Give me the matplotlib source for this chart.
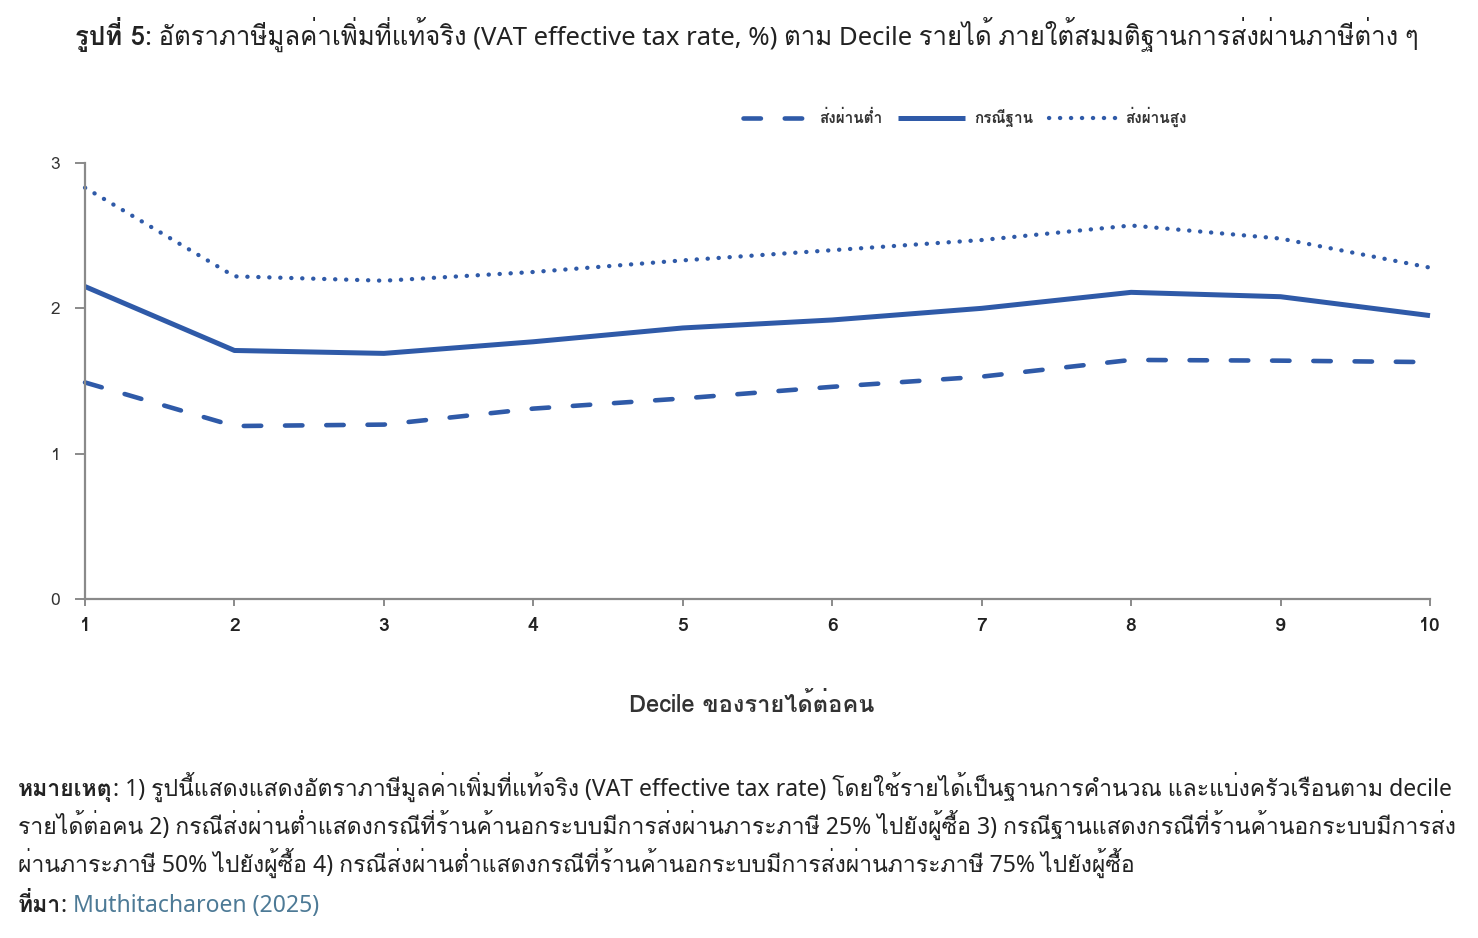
import matplotlib
matplotlib.use("Agg")
import matplotlib.pyplot as plt
from matplotlib import font_manager as fm

# decile values (VAT effective tax rate, %)
deciles = [1, 2, 3, 4, 5, 6, 7, 8, 9, 10]
low_pass = [1.49, 1.19, 1.20, 1.31, 1.38, 1.46, 1.53, 1.645, 1.64, 1.63]
base_case = [2.15, 1.71, 1.69, 1.77, 1.865, 1.92, 2.00, 2.11, 2.08, 1.95]
high_pass = [2.83, 2.22, 2.19, 2.25, 2.33, 2.40, 2.47, 2.57, 2.48, 2.28]
series_labels = ["ส่งผ่านต่ำ", "กรณีฐาน", "ส่งผ่านสูง"]
y_ticks = [0, 1, 2, 3]

title_bold = "รูปที่ 5"
title_rest = ": อัตราภาษีมูลค่าเพิ่มที่แท้จริง (VAT effective tax rate, %) ตาม Decile รายได้ ภายใต้สมมติฐานการส่งผ่านภาษีต่าง ๆ"
x_label = "Decile ของรายได้ต่อคน"
note_lines = [
    ("หมายเหตุ", ": 1) รูปนี้แสดงแสดงอัตราภาษีมูลค่าเพิ่มที่แท้จริง (VAT effective tax rate) โดยใช้รายได้เป็นฐานการคำนวณ และแบ่งครัวเรือนตาม decile"),
    ("", "รายได้ต่อคน 2) กรณีส่งผ่านต่ำแสดงกรณีที่ร้านค้านอกระบบมีการส่งผ่านภาระภาษี 25% ไปยังผู้ซื้อ 3) กรณีฐานแสดงกรณีที่ร้านค้านอกระบบมีการส่ง"),
    ("", "ผ่านภาระภาษี 50% ไปยังผู้ซื้อ 4) กรณีส่งผ่านต่ำแสดงกรณีที่ร้านค้านอกระบบมีการส่งผ่านภาระภาษี 75% ไปยังผู้ซื้อ"),
]
source_bold = "ที่มา"
source_text = "Muthitacharoen (2025)"

LINE_COLOR = "#2f5aa8"
AXIS_COLOR = "#8a8a8a"
TEXT_COLOR = "#222222"
LINK_COLOR = "#4d7a96"

# Loma places tone marks above upper vowels without shaping, so Thai comes from it;
# regular Latin letters come from Noto Sans first, bold text all from Loma.
available = {f.name for f in fm.fontManager.ttflist}
thai = "Loma" if "Loma" in available else "Noto Sans Thai Looped"
TEXT_FAMILY = ["Noto Sans", thai, "DejaVu Sans"]
CHART_FAMILY = [thai, "DejaVu Sans"]
plt.rcParams["font.family"] = TEXT_FAMILY

fig = plt.figure(figsize=(14.78, 9.38), dpi=100)
W, H = 1478, 938
ax = fig.add_axes([85 / W, 1 - 599 / H, (1430 - 85) / W, (599 - 163) / H])

h_low, = ax.plot(deciles, low_pass, color=LINE_COLOR, lw=3.3, linestyle=(0, (3.8, 5.2)),
                 dash_capstyle="round", clip_on=False, label=series_labels[0])
h_base, = ax.plot(deciles, base_case, color=LINE_COLOR, lw=3.6, solid_capstyle="butt",
                  clip_on=False, label=series_labels[1])
h_high, = ax.plot(deciles, high_pass, color=LINE_COLOR, lw=3.1, linestyle=(0, (0.05, 2.5)),
                  dash_capstyle="round", clip_on=False, label=series_labels[2])

ax.set_xlim(1, 10)
ax.set_ylim(0, 3)
ax.set_xticks(deciles)
ax.set_xticklabels([str(d) for d in deciles], fontweight="bold", fontsize=14,
                   color=TEXT_COLOR, family=CHART_FAMILY)
ax.set_yticks(y_ticks)
ax.set_yticklabels([str(t) for t in y_ticks], fontsize=12.5, color="#333333", family=CHART_FAMILY)
ax.tick_params(axis="y", direction="out", length=7, width=1.4, color=AXIS_COLOR, pad=11)
ax.tick_params(axis="x", direction="out", length=5, width=1.4, color=AXIS_COLOR, pad=8)
for side in ("top", "right"):
    ax.spines[side].set_visible(False)
for side in ("left", "bottom"):
    ax.spines[side].set_color(AXIS_COLOR)
    ax.spines[side].set_linewidth(1.6)

fig.text(752 / W, 1 - 705 / H, x_label, ha="center", va="center", fontsize=17,
         fontweight="bold", color="#333333", family=CHART_FAMILY)

fig.legend(handles=[h_low, h_base, h_high], loc="center", bbox_to_anchor=(965 / W, 1 - 117 / H),
           ncol=3, frameon=False, handlelength=4.4, columnspacing=1.0, handletextpad=0.6,
           prop={"family": CHART_FAMILY, "size": 11, "weight": "bold"}, labelcolor="#333333")

renderer = fig.canvas.get_renderer()


def text_width(txt, size, weight="normal"):
    fam = CHART_FAMILY if weight == "bold" else TEXT_FAMILY
    t = fig.text(0, 0, txt, fontsize=size, fontweight=weight, family=fam)
    w = t.get_window_extent(renderer).width
    t.remove()
    return w


def fit_size(bold, rest, target, base=16.0):
    w = text_width(bold, base, "bold") + text_width(rest, base)
    return base * target / w


def pair(x_px, base_px, bold, rest, size, centered=False):
    # base_px is the text baseline, counted from the top of the picture
    wb = text_width(bold, size, "bold") if bold else 0
    wr = text_width(rest, size)
    if centered:
        x_px = x_px - (wb + wr) / 2
    if bold:
        fig.text(x_px / W, 1 - base_px / H, bold, fontsize=size, fontweight="bold",
                 family=CHART_FAMILY, color=TEXT_COLOR, va="baseline", ha="left")
    fig.text((x_px + wb) / W, 1 - base_px / H, rest, fontsize=size, color=TEXT_COLOR,
             va="baseline", ha="left")
    return wb + wr


# title spans x 75..1420 in the reference
title_size = min(19.0, fit_size(title_bold, title_rest, 1345))
pair(747, 45, title_bold, title_rest, title_size, centered=True)

# widest note line spans x 18..1458
note_size = min(17.0, min(fit_size(b, r, 1440) for b, r in note_lines))
for i, (b, r) in enumerate(note_lines):
    pair(18, 796 + i * 38, b, r, note_size)

w = pair(18, 912, source_bold, ": ", note_size)
fig.text((18 + w) / W, 1 - 912 / H, source_text, fontsize=note_size, color=LINK_COLOR,
         va="baseline", ha="left")

fig.savefig("out.png", dpi=100, facecolor="white")
